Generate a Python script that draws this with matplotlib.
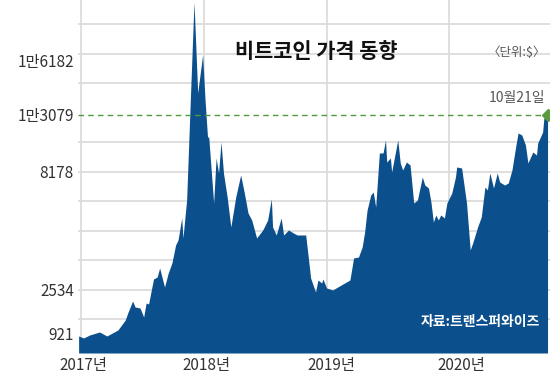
import numpy as np
import matplotlib
matplotlib.use('Agg')
import matplotlib.pyplot as plt

plt.rcParams['font.family'] = ['Noto Sans CJK KR', 'DejaVu Sans']

# 비트코인 가격 (달러), x = 연도(소수)
years = [2016.98, 2017.02, 2017.07, 2017.15, 2017.21, 2017.27, 2017.30, 2017.36, 2017.38, 2017.42,
         2017.44, 2017.48, 2017.51, 2017.53, 2017.55, 2017.59, 2017.62, 2017.64, 2017.68, 2017.71,
         2017.74, 2017.77, 2017.79, 2017.82, 2017.83, 2017.86, 2017.89, 2017.92, 2017.95, 2017.99,
         2018.01, 2018.03, 2018.04, 2018.08, 2018.10, 2018.12, 2018.14, 2018.16, 2018.19, 2018.22,
         2018.26, 2018.30, 2018.33, 2018.36, 2018.39, 2018.43, 2018.48, 2018.52, 2018.55, 2018.56,
         2018.59, 2018.63, 2018.65, 2018.69, 2018.73, 2018.76, 2018.83, 2018.87, 2018.91, 2018.93,
         2018.96, 2018.97, 2019.00, 2019.05, 2019.09, 2019.19, 2019.22, 2019.26, 2019.29, 2019.31,
         2019.33, 2019.36, 2019.38, 2019.40, 2019.43, 2019.46, 2019.48, 2019.49, 2019.52, 2019.53,
         2019.58, 2019.60, 2019.62, 2019.65, 2019.68, 2019.71, 2019.74, 2019.78, 2019.80, 2019.83,
         2019.85, 2019.87, 2019.89, 2019.91, 2019.93, 2019.96, 2019.98, 2020.02, 2020.05, 2020.06,
         2020.10, 2020.14, 2020.17, 2020.19, 2020.23, 2020.26, 2020.29, 2020.31, 2020.33, 2020.36,
         2020.39, 2020.41, 2020.45, 2020.48, 2020.51, 2020.54, 2020.56, 2020.59, 2020.62, 2020.64,
         2020.68, 2020.71, 2020.72, 2020.76, 2020.77, 2020.80]
prices = [783, 691, 829, 959, 783, 959, 1034, 1409, 1671, 2121,
          1896, 1859, 1521, 2046, 2009, 3060, 3156, 3586, 2677, 3347,
          3825, 4686, 4926, 5978, 5021, 6839, 13925, 19439, 14320, 16463,
          13925, 11187, 11187, 6695, 9382, 8130, 10757, 8130, 6982, 5547,
          6982, 8034, 7174, 6217, 5882, 5021, 5404, 5882, 6900, 5547,
          5165, 5978, 5165, 5404, 5260, 5165, 5165, 3108, 2459, 3012,
          2869, 3060, 2630, 2534, 2677, 3012, 4065, 4112, 4591, 5308,
          6360, 7078, 7221, 6504, 9812, 9812, 10929, 9038, 9382, 8178,
          10929, 8952, 8350, 9038, 8780, 6695, 6839, 7939, 7556, 7413,
          6743, 5786, 6121, 5882, 6121, 5978, 6695, 7174, 7939, 8608,
          8522, 6695, 4447, 4782, 5547, 6026, 7460, 7317, 8130, 7413,
          8130, 7700, 7556, 7652, 8350, 10328, 11531, 11359, 10499, 8952,
          9898, 9640, 10671, 11617, 12800, 13079]

ytick_vals = [921, 2534, 8178, 13079, 16182]
ytick_labels = ['921', '2534', '8178', '1만3079', '1만6182']
year_ticks = [2017, 2018, 2019, 2020]
year_labels = ['2017년', '2018년', '2019년', '2020년']
last_label = '10월21일'

# 눈금 간격이 일정하지 않은 세로축 (구간별 선형)
anchor_d = [0, 921, 2534, 8178, 13079, 16182, 21000]
anchor_p = [0, 20, 63, 181, 238, 293, 378.8]

def fwd(v):
    return np.interp(v, anchor_d, anchor_p)

def inv(p):
    return np.interp(p, anchor_p, anchor_d)

fig = plt.figure(figsize=(5.5, 3.79), dpi=100)
ax = fig.add_axes([78/550, 26/379, 472/550, 353/379])
ax.set_yscale('function', functions=(fwd, inv))
ax.set_xlim(2016.975, 2020.82)
ax.set_ylim(0, inv(353))

# 격자
for k in range(11):
    if k == 7:
        continue
    p = 34 + 29.5*k
    ax.axhline(inv(p), color='#dcdcdc', lw=1.3, zorder=0)
for yr in year_ticks:
    ax.axvline(yr, color='#dcdcdc', lw=1.3, zorder=0)

ax.fill_between(years, prices, 0, color='#0b4f8c', lw=0, zorder=2)

ax.plot([2016.975, years[-1]], [prices[-1], prices[-1]], ls=(0, (4, 3)), color='#4f9a3c', lw=1, zorder=3)
ax.plot([years[-1]], [prices[-1]], marker='D', ms=6, color='#5c9a3c', zorder=4, clip_on=False)

ax.set_yticks(ytick_vals)
ax.set_yticklabels(ytick_labels, fontsize=11, color='#333333')
ax.set_xticks([2017.02, 2018.02, 2019.04, 2020.1])
ax.set_xticklabels(year_labels, fontsize=11, color='#333333')
ax.tick_params(length=0, pad=3)
ax.yaxis.set_minor_locator(plt.NullLocator())
for s in ax.spines.values():
    s.set_visible(False)

fig.text(316/550, 1 - 52/379, '비트코인 가격 동향', fontsize=15, fontweight='bold',
         ha='center', va='center', color='#111111')
fig.text(546/550, 1 - 52/379, '〈단위:$〉', fontsize=9, ha='right', va='center', color='#555555')
fig.text(545/550, 1 - 98/379, last_label, fontsize=10, ha='right', va='center', color='#555555')
fig.text(540/550, 1 - 322/379, '자료:트랜스퍼와이즈', fontsize=10, fontweight='bold',
         ha='right', va='center', color='white')

fig.savefig('out.png', dpi=100)
